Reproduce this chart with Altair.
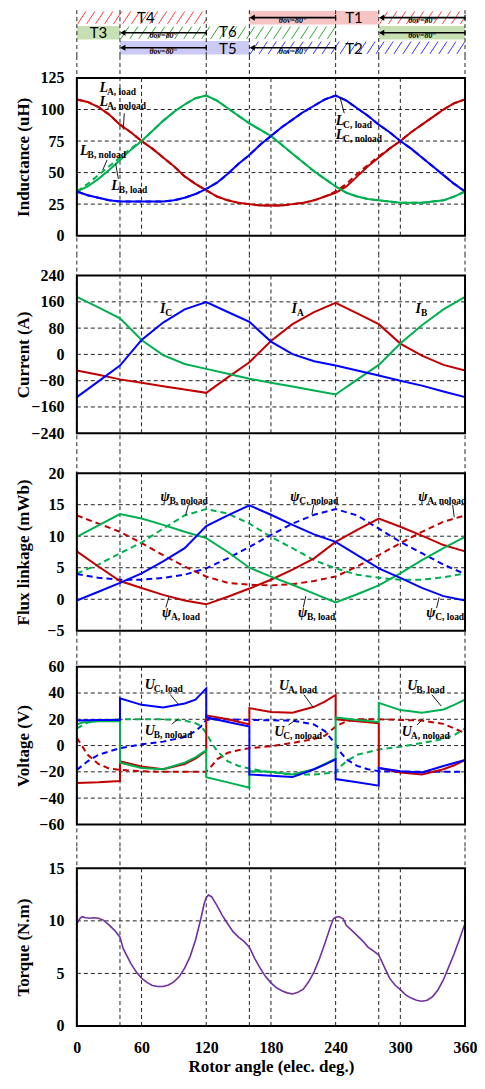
import altair as alt
import numpy as np
import pandas as pd

FONT = "Liberation Serif"
RED, GREEN, BLUE, PURPLE = "#C00000", "#00B050", "#0000FF", "#7030A0"
GRIDC = "#222222"
W = 389
LONG_V = [0, 40, 120, 160, 240, 280, 360]
GRID_V = [60, 180, 300]

# ---------------- top band (switch conduction) ----------------
solid_row = [0, 1, 1, 2]
solid_start = [160, 0, 280, 40]
solid_end = [280, 40, 360, 160]

hatch_row = [0, 0, 1, 2]
hatch_start = [0, 280, 40, 160]
hatch_end = [120, 360, 240, 360]

arrow_row = [0, 0, 1, 1, 2, 2]
arrow_start = [160, 280, 40, 280, 40, 160]
arrow_end = [240, 360, 120, 360, 120, 240]
arrow_text = "θov=80°"

tag_row = [0, 0, 1, 1, 2, 2]
tag_pos = [64, 257, 20, 140, 140, 257]
tag_text = ["T4", "T1", "T3", "T6", "T5", "T2"]
tag_lift = [0.5, 0.5, 0.45, 0.42, 0.56, 0.56]

ROW_FILL = {0: "#F6C4C4", 1: "#C6E0B4", 2: "#CACAF4"}
ROW_HATCH = {0: "#FF3B3B", 1: "#2EA82E", 2: "#3535FF"}

# ---------------- inductance ----------------
ang10 = list(range(0, 361, 10))
LA_load = [108, 106, 102, 96, 88, 82, 75, 69, 62, 55, 47, 41, 36, 31, 28, 26, 25, 24, 24,
           24, 25, 26, 28, 31, 34, 39, 47, 55, 62, 69, 75, 82, 88, 94, 100, 105, 108]
LA_noload = [108, 106, 102, 96, 88, 82, 75, 69, 62, 55, 47, 41, 36, 31, 28, 26, 25, 24, 24,
             24, 25, 26, 28, 31, 35, 41, 49, 56, 63, 69, 75, 82, 88, 94, 100, 105, 108]
LB_load = [35, 39, 45, 52, 60, 68, 75, 83, 91, 98, 104, 109, 111, 107, 101, 95, 89, 84, 79,
           72, 65, 58, 51, 45, 39, 34, 31, 29, 28, 27, 26, 26, 26, 27, 28, 31, 35]
LB_noload = [35, 41, 48, 55, 62, 69, 75, 83, 91, 98, 104, 109, 111, 107, 101, 95, 89, 84, 79,
             72, 65, 58, 51, 45, 39, 34, 31, 29, 28, 27, 26, 26, 26, 27, 28, 31, 35]
LC_load = [35, 32, 30, 28, 27, 27, 27, 27, 27, 28, 30, 33, 37, 42, 49, 57, 64, 72, 79,
           86, 92, 98, 103, 108, 111, 107, 101, 95, 88, 82, 75, 69, 62, 55, 48, 41, 35]
LC_noload = LC_load

# ---------------- current ----------------
ang20 = list(range(0, 361, 20))
IA = [-49, -62, -76, -86, -97, -107, -117, -70, -24, 41, 92, 129, 157, 125, 92, 33, -4, -32, -49]
IB = [175, 143, 110, 44, -2, -29, -44, -59, -74, -86, -98, -110, -122, -77, -32, 33, 89, 137, 175]
IC = [-130, -82, -34, 44, 97, 137, 159, 129, 99, 39, 1, -21, -34, -49, -64, -80, -95, -113, -130]

# ---------------- flux linkage ----------------
PA_load = [7.6, 5.2, 2.9, 1.8, 0.7, -0.2, -0.8, 0.4, 1.7, 3.1, 4.7, 6.5, 9.1, 11.0, 12.8, 11.5, 10.1, 8.6, 7.6]
PB_load = [9.9, 11.7, 13.5, 12.8, 11.8, 10.7, 9.7, 7.5, 5.0, 3.6, 2.3, 0.9, -0.5, 0.8, 2.2, 4.1, 6.2, 8.1, 9.9]
PC_load = [-0.2, 1.2, 2.6, 4.1, 6.0, 8.1, 11.6, 13.3, 14.9, 13.4, 11.8, 10.3, 9.1, 7.0, 4.9, 3.4, 1.8, 0.5, -0.2]
PA_noload = [13.3, 12.0, 10.7, 8.9, 7.0, 5.2, 3.6, 2.6, 2.3, 2.2, 2.4, 2.9, 3.6, 5.2, 7.0, 8.9, 10.7, 12.3, 13.3]
PB_noload = [4.1, 5.5, 7.3, 9.0, 11.2, 13.3, 14.3, 13.6, 12.0, 9.9, 8.1, 6.2, 4.9, 3.9, 3.4, 3.1, 3.1, 3.5, 4.1]
PC_noload = [4.0, 3.4, 3.1, 3.1, 3.4, 3.9, 4.9, 6.5, 8.3, 10.2, 12.0, 13.4, 14.3, 13.3, 11.2, 9.1, 7.3, 5.5, 4.0]

# ---------------- voltage ----------------
UA_load_ang = [0, 20, 40, 40, 60, 80, 100, 110, 120, 120, 140, 160, 160, 180, 200, 220, 230, 240, 240, 260,
               280, 280, 300, 320, 340, 350, 360, 360]
UA_load_val = [-28.5, -28, -27, -12, -16, -18, -14, -10, -4, 23, 20, 16, 28.5, 25.5, 25, 29.5, 33.5, 38.5, 20, 18.5,
               17, -17, -20.5, -22, -18, -15, -11, -28.5]
UB_load_ang = [0, 5, 20, 40, 40, 60, 80, 100, 110, 120, 120, 140, 160, 160, 180, 200, 220, 230, 240, 240,
               260, 280, 280, 300, 320, 340, 350, 360, 360]
UB_load_val = [16, 17.5, 18.5, 18.5, -13, -17, -18, -13, -9, -3.5, -24, -28, -32, -19.5, -20, -22, -18, -14, -10, 21.5,
               19.5, 18, 32.5, 27, 25, 27.5, 31, 35, 16]
UC_load_ang = [0, 20, 40, 40, 60, 80, 100, 110, 120, 120, 140, 160, 160, 180, 200, 220, 230, 240, 240, 260,
               280, 280, 300, 320, 340, 360, 360]
UC_load_val = [19, 19.5, 19.5, 36, 31, 29, 32, 35, 43.5, 21.5, 18, 14.5, -22, -23, -24, -18, -14.5, -10.5, -25.5, -28,
               -30.5, -17, -19.5, -20.5, -15.5, -11, 19]
UA_noload_ang = [0, 10, 20, 30, 40, 60, 80, 100, 120, 125, 130, 140, 150, 160, 180, 200, 220, 230, 240, 250,
                 260, 280, 300, 320, 340, 350, 360]
UA_noload_val = [6, -7, -14, -17.5, -18.5, -19.5, -20, -20, -20, -15.5, -10.5, -5.5, -3.5, -2, -0.5, 2, 5, 7.5, 14.5, 18.5,
                 20, 20, 19.5, 19, 16.5, 13, 9.5]
UB_noload_ang = [0, 10, 20, 40, 60, 80, 100, 110, 115, 120, 125, 130, 140, 150, 160, 180, 200, 220, 240, 245,
                 250, 260, 280, 300, 320, 340, 350, 360]
UB_noload_val = [13, 17.5, 19, 20, 20, 20, 19, 17, 15, 9.5, 2, -4, -12, -15.5, -17.5, -20.5, -22, -22, -20.5, -15.5,
                 -12, -7, -3, -1, 2, 5, 8, 13]
UC_noload_ang = [0, 10, 20, 30, 40, 60, 80, 100, 110, 115, 120, 130, 160, 200, 220, 230, 240, 245, 250, 260,
                 270, 280, 300, 360]
UC_noload_val = [-18.5, -12, -7, -4.5, -2, 1, 3, 6.5, 11, 14.5, 19.5, 20, 19.5, 19, 16, 11, 1, -5.5, -10.5, -15.5,
                 -18, -19.5, -20, -20]

# ---------------- torque ----------------
T_ang = [0, 3, 5, 8, 12, 15, 20, 25, 30, 35, 40, 43, 50, 55, 60, 65, 70, 75, 80, 85, 90, 95, 100, 105, 110, 115,
         118, 120, 122, 125, 130, 135, 140, 145, 150, 155, 160, 165, 170, 175, 180, 185, 190, 195, 200, 205, 210,
         215, 220, 225, 230, 235, 238, 240, 243, 247, 250, 255, 260, 265, 270, 275, 280, 285, 290, 295, 300, 305,
         310, 315, 320, 325, 330, 335, 340, 345, 350, 355, 360]
T_val = [9.75, 10.25, 10.4, 10.3, 10.25, 10.3, 10.25, 10.05, 9.6, 9.1, 8.45, 7.35, 5.95, 5.15, 4.55, 4.15, 3.85,
         3.75, 3.75, 3.9, 4.2, 4.7, 5.5, 6.6, 8.15, 10.2, 11.6, 12.2, 12.45, 12.3, 11.45, 10.5, 9.7, 8.95, 8.45,
         8.05, 7.5, 6.4, 5.5, 4.7, 4.1, 3.65, 3.35, 3.15, 3.05, 3.2, 3.5, 4.2, 5.15, 6.4, 7.85, 9.4, 10.2, 10.35,
         10.4, 10.2, 9.55, 9.1, 8.6, 8.1, 7.5, 7.15, 6.75, 5.65, 4.55, 3.9, 3.45, 2.95, 2.65, 2.45, 2.35, 2.45,
         2.8, 3.45, 4.4, 5.65, 6.9, 8.3, 9.75]

# ---------------- annotations ----------------
L_ann_x = [21, 21, 3, 32, 240, 240]
L_ann_y = [114, 103, 64, 36, 88, 77]
L_ann_sub = ["A, load", "A, noload", "B, noload", "B, load", "C, load", "C, noload"]
L_lead = [(44, 97, 43, 84), (28, 60, 24, 52), (38.5, 45, 36, 57), (244, 110, 248, 97)]

I_ann_x = [77, 199, 314]
I_ann_y = [125, 125, 125]
I_ann_sub = ["C", "A", "B"]

P_ann_x = [77.5, 198, 316.6, 79, 205, 324]
P_ann_y = [15.6, 15.6, 15.6, -2.8, -2.8, -2.8]
P_ann_sub = ["B, noload", "C, noload", "A, noload", "A, load", "B, load", "C, load"]
P_lead = [(103.5, 15, 100.8, 13.3), (219.6, 15, 218, 13.4), (348.5, 15, 350, 13),
          (85.5, 0.4, 82.5, -1.3), (212.3, 0.5, 210, -1.3), (336, 0.3, 333.6, -1.4)]

U_ann_x = [63, 63, 187.5, 183, 306.5, 301.4]
U_ann_y = [43, 8.3, 42.5, 7.5, 42.5, 7.5]
U_ann_sub = ["C, load", "B, noload", "A, load", "C, noload", "B, load", "A, noload"]
U_lead = [(86.7, 38.75, 94.3, 31.25), (88, 16.25, 94.3, 20.5), (210.6, 38.75, 219, 29.25),
          (196.3, 15.75, 203.9, 20), (329.2, 38.75, 338, 30), (315.5, 15.75, 321.6, 20.5)]

XS = alt.Scale(domain=[0, 360], nice=False, zero=False)


def panel(H, T, B, vmin, vmax, ticks, title, series, ann=None, letter="", letter_dx=8.0,
          leaders=None, xaxis=None):
    u = (vmax - vmin) / B
    lo = vmin - (H - T - B) * u
    hi = vmax + T * u
    ys = alt.Scale(domain=[lo, hi], nice=False, zero=False)
    yax = alt.Axis(values=ticks, title=title, titleY=T + B / 2, labelPadding=13, ticks=False, tickSize=0,
                   domain=False, grid=False, minExtent=42, maxExtent=42, titlePadding=2,
                   labelOverlap=False, labelFlush=False)

    def X(f):
        return alt.X(f, type="quantitative", scale=XS, axis=xaxis)

    def Y(f):
        return alt.Y(f, type="quantitative", scale=ys, axis=yax)

    layers = []
    layers.append(alt.Chart(pd.DataFrame({"a": LONG_V, "lo": lo, "hi": hi})).mark_rule(
        color=GRIDC, strokeDash=[4, 3], strokeWidth=1).encode(x=X("a"), y=Y("lo"), y2=alt.Y2("hi")))
    layers.append(alt.Chart(pd.DataFrame({"a": GRID_V, "lo": vmin, "hi": vmax})).mark_rule(
        color=GRIDC, strokeDash=[4, 3], strokeWidth=1).encode(x=X("a"), y=Y("lo"), y2=alt.Y2("hi")))
    layers.append(alt.Chart(pd.DataFrame({"v": ticks[1:-1], "a0": 0, "a1": 360})).mark_rule(
        color=GRIDC, strokeDash=[4, 3], strokeWidth=1).encode(y=Y("v"), x=X("a0"), x2=alt.X2("a1")))
    for angs, vals, color, dashed, width in series:
        df = pd.DataFrame({"a": angs, "v": vals, "i": range(len(angs))})
        kw = dict(color=color, strokeWidth=width)
        if dashed:
            kw["strokeDash"] = [6, 4]
        layers.append(alt.Chart(df).mark_line(**kw).encode(x=X("a"), y=Y("v"), order=alt.Order("i:Q")))
    layers.append(alt.Chart(pd.DataFrame({"a0": [0], "a1": [360], "lo": [vmin], "hi": [vmax]})).mark_rect(
        fill="white", fillOpacity=0, stroke="black", strokeWidth=2).encode(
        x=X("a0"), x2=alt.X2("a1"), y=Y("lo"), y2=alt.Y2("hi")))
    if leaders:
        ld = pd.DataFrame(leaders, columns=["x", "y", "x2", "y2"])
        layers.append(alt.Chart(ld).mark_rule(color="black", strokeWidth=0.9).encode(
            x=X("x"), y=Y("y"), x2=alt.X2("x2"), y2=alt.Y2("y2")))
    if ann:
        ad = pd.DataFrame({"x": ann[0], "y": ann[1], "sub": ann[2], "main": letter})
        layers.append(alt.Chart(ad).mark_text(font=FONT, fontStyle="italic", fontWeight="bold", fontSize=14,
                                              align="left", baseline="alphabetic", color="black").encode(
            x=X("x"), y=Y("y"), text="main:N"))
        layers.append(alt.Chart(ad).mark_text(font=FONT, fontWeight="bold", fontSize=9.5, align="left",
                                              baseline="alphabetic", dx=letter_dx, dy=3, color="black").encode(
            x=X("x"), y=Y("y"), text="sub:N"))
    return alt.layer(*layers).properties(width=W, height=H)


# ---------------- band panel ----------------
BAND_H = 46
RH = 0.9
BDOM = [3.0, -0.05]
PX_DEG = W / 360.0
PX_ROW = BAND_H / (BDOM[0] - BDOM[1])
bys = alt.Scale(domain=BDOM, nice=False, zero=False)


def BX(f):
    return alt.X(f, type="quantitative", scale=XS, axis=None)


def BY(f):
    return alt.Y(f, type="quantitative", scale=bys, axis=None)


sol = pd.DataFrame({"row": solid_row, "a0": solid_start, "a1": solid_end})
sol["y0"] = sol["row"]
sol["y1"] = sol["row"] + RH
sol["fc"] = sol["row"].map(ROW_FILL)

run = 0.6 * RH * PX_ROW / PX_DEG
step = 9.0 / PX_DEG
segs = []
for r, a0, a1 in zip(hatch_row, hatch_start, hatch_end):
    yb, yt = r + RH - 0.04, r + 0.04
    for b in np.arange(a0 - run, a1, step):
        t0 = max(0.0, (a0 - b) / run)
        t1 = min(1.0, (a1 - b) / run)
        if t1 > t0:
            segs.append({"x": b + t0 * run, "x2": b + t1 * run,
                         "y": yb + t0 * (yt - yb), "y2": yb + t1 * (yt - yb), "hc": ROW_HATCH[r]})
hat = pd.DataFrame(segs)

arr = pd.DataFrame({"row": arrow_row, "a0": arrow_start, "a1": arrow_end})
arr["yc"] = arr["row"] + 0.45
arr["head"] = arr["a0"] + 2.6
arr["mid"] = (arr["a0"] + arr["a1"]) / 2
arr["yl"] = arr["row"] + 0.7
arr["yt0"] = arr["row"] + 0.27
arr["yt1"] = arr["row"] + 0.63
arr["lab"] = arrow_text

tags = pd.DataFrame({"row": tag_row, "a": tag_pos, "t": tag_text, "lift": tag_lift})
tags["yc"] = tags["row"] + tags["lift"]

band = alt.layer(
    alt.Chart(sol).mark_rect().encode(x=BX("a0"), x2=alt.X2("a1"), y=BY("y0"), y2=alt.Y2("y1"),
                                      color=alt.Color("fc:N", scale=None)),
    alt.Chart(hat).mark_rule(strokeWidth=1).encode(x=BX("x"), x2=alt.X2("x2"), y=BY("y"), y2=alt.Y2("y2"),
                                                   color=alt.Color("hc:N", scale=None)),
    alt.Chart(pd.DataFrame({"a": LONG_V, "lo": BDOM[1], "hi": BDOM[0]})).mark_rule(
        color=GRIDC, strokeDash=[4, 3], strokeWidth=1).encode(x=BX("a"), y=BY("lo"), y2=alt.Y2("hi")),
    alt.Chart(arr).mark_rule(color="black", strokeWidth=1.6).encode(x=BX("head"), x2=alt.X2("a1"), y=BY("yc")),
    alt.Chart(arr).mark_rule(color="black", strokeWidth=1.2).encode(x=BX("a1"), y=BY("yt0"), y2=alt.Y2("yt1")),
    alt.Chart(arr).mark_point(shape="triangle-left", filled=True, size=38, color="black", opacity=1).encode(
        x=BX("head"), y=BY("yc")),
    alt.Chart(arr).mark_text(font=FONT, fontWeight="bold", fontStyle="italic", fontSize=8,
                             baseline="middle", color="black").encode(x=BX("mid"), y=BY("yl"), text="lab:N"),
    alt.Chart(tags).mark_text(font="Lato", fontSize=15, baseline="middle", color="black").encode(
        x=BX("a"), y=BY("yc"), text="t:N"),
).properties(width=W, height=BAND_H)

p_ind = panel(200, 22, 158, 0, 125, [0, 25, 50, 75, 100, 125], "Inductance (uH)", [
    (ang10, LA_noload, RED, True, 2), (ang10, LB_noload, GREEN, True, 2), (ang10, LC_noload, BLUE, True, 2),
    (ang10, LA_load, RED, False, 2), (ang10, LB_load, GREEN, False, 2), (ang10, LC_load, BLUE, False, 2),
], ann=(L_ann_x, L_ann_y, L_ann_sub), letter="L", letter_dx=7.5, leaders=L_lead)

p_cur = panel(198, 20, 158, -240, 240, [-240, -160, -80, 0, 80, 160, 240], "Current (A)", [
    (ang20, IA, RED, False, 2), (ang20, IB, GREEN, False, 2), (ang20, IC, BLUE, False, 2),
], ann=(I_ann_x, I_ann_y, I_ann_sub), letter="I", letter_dx=5.5)

p_flux = panel(197, 20, 158, -5, 20, [-5, 0, 5, 10, 15, 20], "Flux linkage (mWb)", [
    (ang20, PA_noload, RED, True, 2), (ang20, PB_noload, GREEN, True, 2), (ang20, PC_noload, BLUE, True, 2),
    (ang20, PA_load, RED, False, 2), (ang20, PB_load, GREEN, False, 2), (ang20, PC_load, BLUE, False, 2),
], ann=(P_ann_x, P_ann_y, P_ann_sub), letter="ψ", letter_dx=9, leaders=P_lead)

p_volt = panel(197, 17, 158, -60, 60, [-60, -40, -20, 0, 20, 40, 60], "Voltage (V)", [
    (UA_noload_ang, UA_noload_val, RED, True, 2), (UB_noload_ang, UB_noload_val, GREEN, True, 2),
    (UC_noload_ang, UC_noload_val, BLUE, True, 2),
    (UA_load_ang, UA_load_val, RED, False, 2), (UB_load_ang, UB_load_val, GREEN, False, 2),
    (UC_load_ang, UC_load_val, BLUE, False, 2),
], ann=(U_ann_x, U_ann_y, U_ann_sub), letter="U", letter_dx=9, leaders=U_lead)

xax = alt.Axis(values=list(range(0, 361, 60)), title="Rotor angle (elec. deg.)", labelPadding=14, ticks=False,
               tickSize=0, domain=False, grid=False, labelFlush=False, labelOverlap=False, titlePadding=3)
p_tq = panel(180, 22, 158, 0, 15, [0, 5, 10, 15], "Torque (N.m)", [
    (T_ang, T_val, PURPLE, False, 1.6),
], xaxis=xax)

chart = alt.vconcat(band, p_ind, p_cur, p_flux, p_volt, p_tq, spacing=0, bounds="flush").properties(
    padding={"left": 7, "top": 0, "right": 0, "bottom": 0}
).configure_view(stroke=None).configure_axis(
    labelFont=FONT, labelFontWeight="bold", labelFontSize=16, labelColor="black",
    titleFont=FONT, titleFontWeight="bold", titleFontSize=17, titleColor="black",
)

chart.save("out.html", embed_options={"renderer": "svg", "actions": False})
